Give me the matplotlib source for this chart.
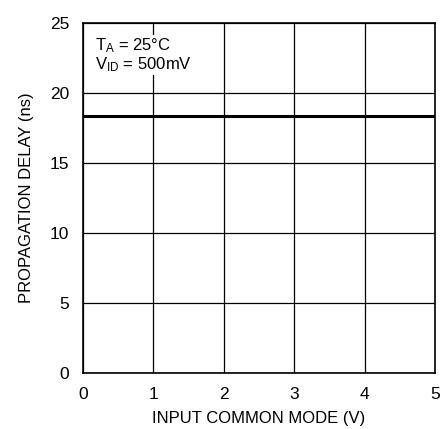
import numpy as np
import matplotlib.pyplot as plt

# Data
vcm = [0, 5]
delay = [18.33, 18.33]
xticks = [0, 1, 2, 3, 4, 5]
yticks = [0, 5, 10, 15, 20, 25]

plt.rcParams['font.family'] = ['Liberation Sans', 'DejaVu Sans']
plt.rcParams['mathtext.fontset'] = 'custom'
plt.rcParams['mathtext.rm'] = 'Liberation Sans'

fig = plt.figure(figsize=(4.4, 4.29), dpi=100)
ax = fig.add_axes([0.1886, 0.1312, 0.80, 0.8158])

ax.set_xlim(0, 5)
ax.set_ylim(0, 25)
ax.set_xticks(xticks)
ax.set_yticks(yticks)
ax.grid(True, color='black', linewidth=0.9)
ax.tick_params(length=0, labelsize=12.5)
ax.tick_params(axis='x', pad=10)
ax.tick_params(axis='y', pad=10)
for s in ax.spines.values():
    s.set_linewidth(1.2)

ax.plot(vcm, delay, color='black', linewidth=2.2, zorder=3)

ax.text(0.17, 24.0, '$\\mathregular{T_A}$ = 25°C\n$\\mathregular{V_{ID}}$ = 500mV',
        fontsize=12, va='top', ha='left', linespacing=1.0,
        bbox=dict(facecolor='white', edgecolor='none', pad=1), zorder=4)

ax.set_xlabel('INPUT COMMON MODE (V)', fontsize=12, labelpad=7)
ax.set_ylabel('PROPAGATION DELAY (ns)', fontsize=12, labelpad=11)

plt.savefig('out.png', dpi=100)
